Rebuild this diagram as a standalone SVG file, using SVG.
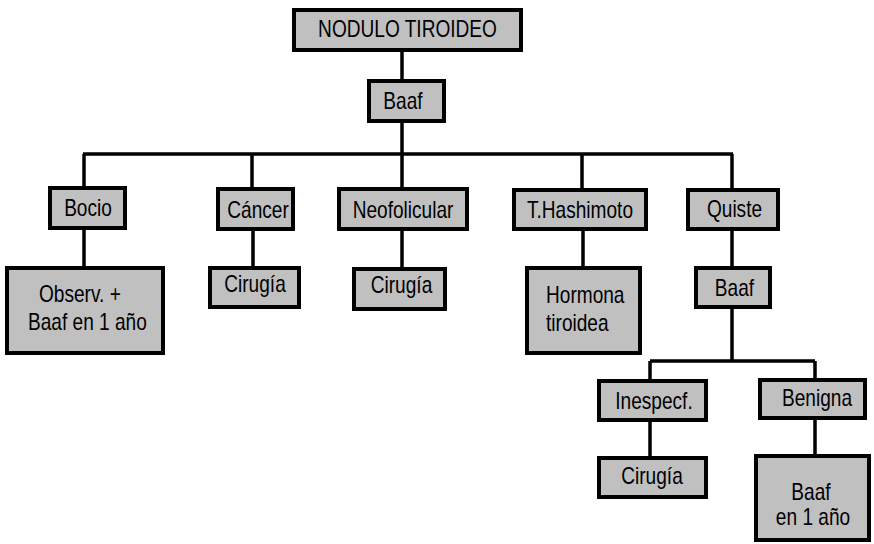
<svg xmlns="http://www.w3.org/2000/svg" width="874" height="544" viewBox="0 0 874 544">
<style>
.box{fill:#c0c0c0;stroke:#000;stroke-width:4}
.t{font-family:"Liberation Sans",Arial,sans-serif;font-size:23px;fill:#000;text-anchor:middle}
.s{text-anchor:start}
#connectors path{fill:none;stroke:#000;stroke-width:3.5}
</style>
<rect width="874" height="544" fill="#fff"/>
<g id="connectors">
<path d="M402 52V79M402 123V154M83 154H733M84 154V186M252 154V187M402 154V187M582 154V188M732 154V188"/>
<path d="M84 230V266M253 231V266M402 231V267M583 231V266M732 231V266M732 309V361M650 361H815M650 361V379M815 361V378M650 422V456M815 420V454"/>
</g>
<g id="n_nodulo"><rect class="box" x="294" y="10" width="227" height="40"/><text class="t" transform="translate(407.5 37) scale(0.83 1)">NODULO TIROIDEO</text></g>
<g id="n_baaf1"><rect class="box" x="369" y="81" width="75" height="40"/><text class="t" transform="translate(403 109) scale(0.83 1)">Baaf</text></g>
<g id="n_bocio"><rect class="box" x="50" y="188" width="75" height="40"/><text class="t" transform="translate(88 216) scale(0.83 1)">Bocio</text></g>
<g id="n_observ"><rect class="box" x="7" y="268" width="156" height="85"/><text class="t s" transform="translate(39 302) scale(0.83 1)">Observ. +</text><text class="t s" transform="translate(28 330) scale(0.83 1)">Baaf en 1 año</text></g>
<g id="n_cancer"><rect class="box" x="218" y="189" width="75" height="40"/><text class="t" transform="translate(258 218) scale(0.83 1)">Cáncer</text></g>
<g id="n_cir1"><rect class="box" x="210" y="268" width="89" height="39"/><text class="t" transform="translate(255 292) scale(0.83 1)">Cirugía</text></g>
<g id="n_neo"><rect class="box" x="339" y="189" width="128" height="40"/><text class="t" transform="translate(403 218) scale(0.83 1)">Neofolicular</text></g>
<g id="n_cir2"><rect class="box" x="354" y="269" width="91" height="40"/><text class="t" transform="translate(401.5 293) scale(0.83 1)">Cirugía</text></g>
<g id="n_hashi"><rect class="box" x="514" y="190" width="132" height="39"/><text class="t" transform="translate(580 218) scale(0.83 1)">T.Hashimoto</text></g>
<g id="n_hormona"><rect class="box" x="527" y="268" width="113" height="85"/><text class="t s" transform="translate(546 303) scale(0.83 1)">Hormona</text><text class="t s" transform="translate(546 331) scale(0.83 1)">tiroidea</text></g>
<g id="n_quiste"><rect class="box" x="688" y="190" width="90" height="39"/><text class="t" transform="translate(734.5 217) scale(0.83 1)">Quiste</text></g>
<g id="n_baaf2"><rect class="box" x="696" y="268" width="74" height="39"/><text class="t" transform="translate(734.5 296) scale(0.83 1)">Baaf</text></g>
<g id="n_inesp"><rect class="box" x="599" y="381" width="107" height="39"/><text class="t" transform="translate(654 409) scale(0.83 1)">Inespecf.</text></g>
<g id="n_benigna"><rect class="box" x="760" y="380" width="105" height="38"/><text class="t" transform="translate(817 406) scale(0.83 1)">Benigna</text></g>
<g id="n_cir3"><rect class="box" x="599" y="458" width="107" height="39"/><text class="t" transform="translate(652 484) scale(0.83 1)">Cirugía</text></g>
<g id="n_baaf3"><rect class="box" x="756" y="456" width="113" height="84"/><text class="t" transform="translate(811 500) scale(0.83 1)">Baaf</text><text class="t" transform="translate(813 525) scale(0.83 1)">en 1 año</text></g>
</svg>
